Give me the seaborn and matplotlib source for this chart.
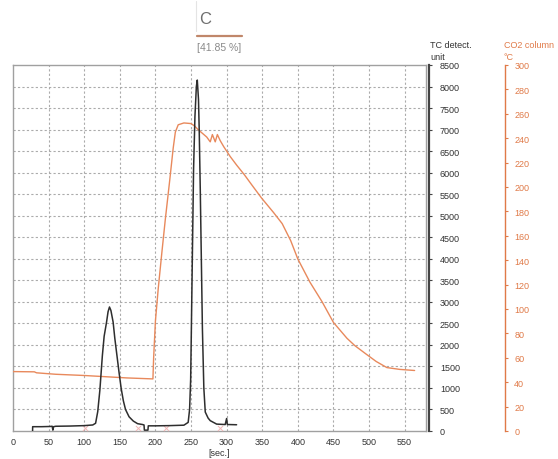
import numpy as np
import pandas as pd
import matplotlib
matplotlib.use('Agg')
import matplotlib.pyplot as plt
from matplotlib.lines import Line2D
import seaborn as sns

# TC detector signal (black curve)
tc_time = [27.5, 27.6, 40, 52, 55, 56, 57, 60, 80, 100, 112, 116, 119, 122, 125.5,
           128, 131.4, 133.5, 135.5, 137.5, 140.6, 143, 146, 149, 152, 155, 158, 163,
           169, 175, 182, 184, 184.5, 189.5, 190, 200, 220, 240, 246, 248, 249.5,
           250.5, 252, 253.6, 255.5, 257.5, 258.8, 260.5, 261.5, 263, 266, 268, 270,
           274, 277, 286, 298, 300, 301, 303, 314]
tc_signal = [0, 100, 100, 105, 110, 20, 100, 110, 115, 125, 140, 180, 450, 950, 1750,
             2200, 2530, 2770, 2880, 2800, 2530, 2150, 1750, 1350, 980, 700, 500, 330,
             230, 170, 150, 140, 20, 20, 120, 120, 125, 135, 200, 500, 1200,
             2370, 4200, 6090, 7300, 8000, 8150, 7700, 7000, 5600, 2370, 1000, 440,
             300, 240, 160, 150, 290, 150, 150, 145]

# CO2 column temperature (orange curve)
co2_time = [0, 30, 33, 60, 100, 130, 160, 196.5, 197.5, 200, 204, 209, 214, 220,
            225, 228, 232, 240, 250, 255, 260, 266, 272, 277, 280, 284, 287, 291, 296,
            305, 314, 325, 335, 349, 366, 378, 390, 400, 417, 434, 450, 469, 480, 496,
            510, 525, 543, 564]
co2_temp = [48.7, 48.5, 47.7, 46.5, 45.5, 44.5, 43.5, 42.7, 60, 90, 117, 146, 174,
            205, 232, 245, 251, 252.5, 252, 250, 247, 244, 241, 237, 243, 237, 243, 238,
            233, 225, 218, 210, 202, 191, 179, 170, 156, 141, 122, 106, 89, 76, 70, 63,
            57, 52, 50.5, 49.6]

# integration markers near the baseline
mark_time = [101, 175, 215, 290]
mark_level = [80, 80, 80, 80]

x_ticks = list(range(0, 551, 50))
tc_ticks = list(range(0, 8501, 500))
temp_ticks = list(range(0, 301, 20))

sns.set_style('white')
plt.rcParams['font.family'] = ['Liberation Sans', 'DejaVu Sans']

W, H = 558, 460
fig = plt.figure(figsize=(W / 100, H / 100), dpi=100)
ax = fig.add_axes([13 / W, 28 / H, 413 / W, 366 / H])

tc_df = pd.DataFrame({'time': tc_time, 'signal': tc_signal})
co2_df = pd.DataFrame({'time': co2_time, 'temp': co2_temp})

grid_kw = dict(color='#ababab', linewidth=0.8, dashes=(2, 2))
for xv in x_ticks[1:]:
    ax.axvline(xv, zorder=0, **grid_kw)
for yv in tc_ticks[1:-1]:
    ax.axhline(yv, zorder=0, **grid_kw)

ax.set_xlim(0, 580)
ax.set_ylim(0, 8500)
ax.set_xticks(x_ticks)
ax.set_yticks([])
ax.tick_params(axis='x', length=0, pad=4, labelsize=6.5, labelcolor='#333333')
ax.set_xlabel('[sec.]', fontsize=6.5, color='#333333', labelpad=1.5)
ax.set_ylabel('')
for s in ax.spines.values():
    s.set_color('#a0a0a0')
    s.set_linewidth(1.0)

# temperature axis
ax_t = ax.twinx()
sns.lineplot(data=co2_df, x='time', y='temp', ax=ax_t, color='#e8895c',
             linewidth=1.0, estimator=None)
ax_t.set_ylim(0, 300)
ax_t.set_yticks(temp_ticks)
ax_t.set_ylabel('')
ax_t.spines['right'].set_position(('outward', 57))
ax_t.spines['right'].set_color('#e07a48')
ax_t.spines['right'].set_linewidth(1.0)
for k in ('top', 'left', 'bottom'):
    ax_t.spines[k].set_visible(False)
ax_t.tick_params(axis='y', direction='out', length=2.5, width=0.8, color='#e07a48',
                 pad=4, labelsize=6.5, labelcolor='#e07a48')

# TC detector axis
ax_tc = ax.twinx()
sns.lineplot(data=tc_df, x='time', y='signal', ax=ax_tc, color='#2e2e2e',
             linewidth=1.1, estimator=None)
ax_tc.scatter(mark_time, mark_level, marker='x', s=14, color='#f2b8b8',
              linewidths=0.7, zorder=1)
ax_tc.set_ylim(0, 8500)
ax_tc.set_yticks(tc_ticks)
ax_tc.set_ylabel('')
ax_tc.spines['right'].set_position(('outward', 2.5))
ax_tc.spines['right'].set_color('#444444')
ax_tc.spines['right'].set_linewidth(1.6)
for k in ('top', 'left', 'bottom'):
    ax_tc.spines[k].set_visible(False)
ax_tc.tick_params(axis='y', direction='out', length=2.5, width=0.8, color='#444444',
                  pad=5, labelsize=6.5, labelcolor='#333333')
ax_tc.set_xlim(0, 580)

# axis headers
fig.text(430 / W, 1 - 45 / H, 'TC detect.', fontsize=6.5, color='#333333', va='center')
fig.text(430 / W, 1 - 57 / H, 'unit', fontsize=6.5, color='#333333', va='center')
fig.text(504 / W, 1 - 45 / H, 'CO2 column', fontsize=6.5, color='#e07a48', va='center')
fig.text(504 / W, 1 - 57 / H, '°C', fontsize=6.5, color='#e07a48', va='center')

# element label above the chart
fig.add_artist(Line2D([196 / W, 196 / W], [1 - 2 / H, 1 - 32 / H], color='#e4e4e4',
                      linewidth=0.8))
fig.text(199 / W, 1 - 20 / H, 'C', fontsize=12, color='#6e6e6e', va='center')
fig.add_artist(Line2D([197 / W, 242 / W], [1 - 37 / H, 1 - 37 / H], color='#c0876a',
                      linewidth=1.6))
fig.text(197 / W, 1 - 48 / H, '[41.85 %]', fontsize=7.5, color='#8a8a8a', va='center')

fig.savefig('out.png', dpi=100)
